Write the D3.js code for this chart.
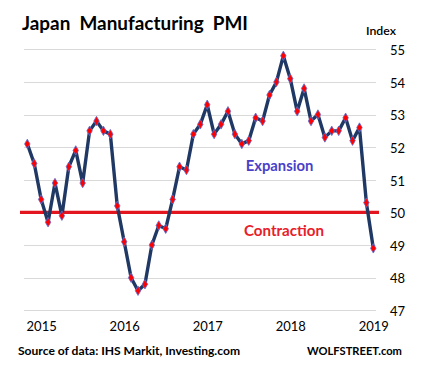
<!DOCTYPE html>
<html>
<head>
<meta charset="utf-8">
<script src="https://cdn.jsdelivr.net/npm/d3@7"></script>
<style>
  html, body { margin: 0; padding: 0; background: #fff; }
  svg { display: block; font-family: Lato, "Open Sans", sans-serif; }
</style>
</head>
<body>
<svg id="chart" width="428" height="379"></svg>
<script>
// ---- data (monthly, Nov 2014 .. Jan 2019) ----
const pmiValues = [
  52.1, 51.5, 50.4, 49.7, 50.9, 49.9, 51.4, 51.9, 50.9, 52.5,
  52.8, 52.5, 52.4, 50.2, 49.1, 48.0, 47.6, 47.8, 49.0, 49.6,
  49.5, 50.4, 51.4, 51.3, 52.4, 52.7, 53.3, 52.4, 52.7, 53.1,
  52.4, 52.1, 52.2, 52.9, 52.8, 53.6, 54.0, 54.8, 54.1, 53.1,
  53.8, 52.8, 53.0, 52.3, 52.5, 52.5, 52.9, 52.2, 52.6, 50.3,
  48.9
];
const yearLabels = ["2015", "2016", "2017", "2018", "2019"];
const yearTickIndex = [2, 14, 26, 38, 50];
const yTicks = [47, 48, 49, 50, 51, 52, 53, 54, 55];
const threshold = 50;

const svg = d3.select("#chart");

const x = d3.scaleLinear().domain([0, pmiValues.length - 1]).range([27.3, 373.3]);
const y = d3.scaleLinear().domain([47, 55]).range([310.3, 49.3]);

function fit(sel, target) {
  const w = sel.node().getComputedTextLength();
  const fs = parseFloat(sel.attr("font-size"));
  sel.attr("font-size", (fs * target / w).toFixed(2));
}

// gridlines
svg.append("g")
  .selectAll("line")
  .data(yTicks)
  .join("line")
  .attr("x1", 24).attr("x2", 376)
  .attr("y1", d => Math.round(y(d)) + 0.5)
  .attr("y2", d => Math.round(y(d)) + 0.5)
  .attr("stroke", "#d9d9d9")
  .attr("stroke-width", 1);

// y axis labels (right)
const yAxis = d3.axisRight(y).tickValues(yTicks).tickSize(0).tickPadding(0);
const gy = svg.append("g").attr("transform", "translate(390,0)").call(yAxis);
gy.select(".domain").remove();
gy.selectAll("text")
  .attr("font-family", "Lato, sans-serif")
  .attr("font-size", 13)
  .attr("fill", "#000")
  .attr("dy", "0.4em");

// x axis labels
const xAxis = d3.axisBottom(x).tickValues(yearTickIndex)
  .tickFormat((d, i) => yearLabels[i]).tickSize(0).tickPadding(0);
const gx = svg.append("g").attr("transform", "translate(0,322)").call(xAxis);
gx.select(".domain").remove();
gx.selectAll("text")
  .attr("font-family", "Lato, sans-serif")
  .attr("font-size", 13)
  .attr("fill", "#000");

// threshold line
svg.append("line")
  .attr("x1", 20).attr("x2", 379)
  .attr("y1", y(threshold)).attr("y2", y(threshold))
  .attr("stroke", "#e3161f")
  .attr("stroke-width", 3.2);

// data line
const line = d3.line().x((d, i) => x(i)).y(d => y(d));
svg.append("path")
  .datum(pmiValues)
  .attr("d", line)
  .attr("fill", "none")
  .attr("stroke", "#203864")
  .attr("stroke-width", 3.4)
  .attr("stroke-linejoin", "round");

// markers (diamonds)
const diamond = d3.symbol().type(d3.symbolDiamond).size(26);
svg.append("g")
  .selectAll("path")
  .data(pmiValues)
  .join("path")
  .attr("d", diamond)
  .attr("transform", (d, i) => `translate(${x(i)},${y(d)})`)
  .attr("fill", "#ff0000")
  .attr("stroke", "#5b6fd6")
  .attr("stroke-width", 0.8);

// labels
const title = svg.append("text")
  .attr("x", 22).attr("y", 29.5)
  .attr("font-family", "Lato, sans-serif")
  .attr("font-weight", "bold")
  .attr("font-size", 20)
  .attr("fill", "#000")
  .attr("xml:space", "preserve")
  .style("white-space", "pre")
  .text("Japan  Manufacturing  PMI");
fit(title, 226);

const idx = svg.append("text")
  .attr("x", 366).attr("y", 35)
  .attr("font-size", 12)
  .attr("font-weight", 600)
  .attr("fill", "#000")
  .text("Index");
fit(idx, 30);

const exp = svg.append("text")
  .attr("x", 245.7).attr("y", 170.7)
  .attr("font-size", 13)
  .attr("font-weight", "bold")
  .attr("fill", "#4b3fc8")
  .text("Expansion");
fit(exp, 67.6);

const con = svg.append("text")
  .attr("x", 244).attr("y", 236)
  .attr("font-size", 13)
  .attr("font-weight", "bold")
  .attr("fill", "#e8202a")
  .text("Contraction");
fit(con, 80);

const src = svg.append("text")
  .attr("x", 18).attr("y", 355)
  .attr("font-size", 12)
  .attr("font-weight", "bold")
  .attr("fill", "#000")
  .text("Source of data: IHS Markit, Investing.com");
fit(src, 222);

const ws = svg.append("text")
  .attr("x", 307).attr("y", 355)
  .attr("font-size", 12)
  .attr("font-weight", "bold")
  .attr("fill", "#000")
  .text("WOLFSTREET.com");
fit(ws, 95);
</script>
</body>
</html>
